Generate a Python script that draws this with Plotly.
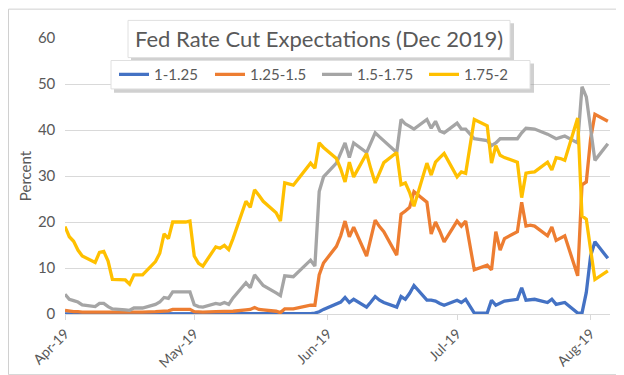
import plotly.graph_objects as go

dates = [
    "2019-04-01", "2019-04-02", "2019-04-03", "2019-04-04", "2019-04-05",
    "2019-04-08", "2019-04-09", "2019-04-10", "2019-04-11", "2019-04-12",
    "2019-04-15", "2019-04-16", "2019-04-17", "2019-04-18", "2019-04-19",
    "2019-04-22", "2019-04-23", "2019-04-24", "2019-04-25", "2019-04-26",
    "2019-04-29", "2019-04-30",
    "2019-05-01", "2019-05-02", "2019-05-03",
    "2019-05-06", "2019-05-07", "2019-05-08", "2019-05-09", "2019-05-10",
    "2019-05-13", "2019-05-14", "2019-05-15", "2019-05-16", "2019-05-17",
    "2019-05-20", "2019-05-21", "2019-05-22", "2019-05-23", "2019-05-24",
    "2019-05-28", "2019-05-29", "2019-05-30", "2019-05-31",
    "2019-06-03", "2019-06-04", "2019-06-05", "2019-06-06", "2019-06-07",
    "2019-06-10", "2019-06-11", "2019-06-12", "2019-06-13", "2019-06-14",
    "2019-06-17", "2019-06-18", "2019-06-19", "2019-06-20", "2019-06-21",
    "2019-06-24", "2019-06-25", "2019-06-26", "2019-06-27", "2019-06-28",
    "2019-07-01", "2019-07-02", "2019-07-03", "2019-07-05",
    "2019-07-08", "2019-07-09", "2019-07-10", "2019-07-11", "2019-07-12",
    "2019-07-15", "2019-07-16", "2019-07-17", "2019-07-18", "2019-07-19",
    "2019-07-22", "2019-07-23", "2019-07-24", "2019-07-25", "2019-07-26",
    "2019-07-29", "2019-07-30", "2019-07-31",
    "2019-08-01", "2019-08-02", "2019-08-05",
]

rate_1_125 = [
    0, 0, 0, 0, 0, 0, 0, 0, 0, 0, 0, 0, 0, 0, 0, 0, 0, 0, 0, 0, 0, 0,
    0, 0, 0, 0, 0, 0, 0, 0, 0, 0, 0, 0, 0, 0, 0, 0, 0, 0, 0.1, 0.2, 0.5, 1.0,
    2.1, 2.6, 3.6, 2.5, 3.2, 1.5, 2.6, 3.8, 3.0, 2.5, 1.5, 3.8, 3.2, 4.5, 6.2,
    3.0, 3.0, 2.8, 2.3, 1.9,
    3.0, 2.5, 3.2, 0.2, 0.2, 3.0, 1.9, 2.4, 2.8, 3.2, 5.7, 3.0, 3.1, 3.2,
    2.5, 3.2, 2.1, 2.3, 2.5, 0.2, 0.2, 4.7,
    12.6, 15.7, 12.1,
]

rate_125_15 = [
    0.8, 0.6, 0.5, 0.5, 0.4, 0.4, 0.4, 0.4, 0.3, 0.3, 0.3, 0.3, 0.4, 0.4, 0.4,
    0.5, 0.6, 0.7, 0.7, 1.0, 1.0, 1.0,
    0.5, 0.4, 0.4, 0.5, 0.5, 0.6, 0.5, 0.6, 0.9, 1.0, 1.4, 1.0, 0.9, 0.6, 0.3,
    1.1, 1.1, 1.1, 1.9, 1.9, 8.5, 11.1,
    14.7, 17.0, 20.2, 16.8, 18.9, 12.6, 16.5, 20.4, 19.0, 17.9, 12.8, 21.7,
    22.4, 23.2, 26.6, 24.3, 17.4, 20.0, 18.0, 15.7,
    20.2, 19.1, 20.2, 9.6, 10.6, 9.6, 17.9, 13.9, 16.4, 17.9, 24.3, 19.1,
    19.3, 19.1, 17.0, 18.9, 16.0, 16.5, 17.0, 8.3, 28.1, 28.7,
    38.1, 43.4, 41.9,
]

rate_15_175 = [
    4.3, 3.2, 2.9, 2.6, 2.0, 1.6, 2.3, 2.3, 1.6, 1.1, 0.9, 0.8, 1.3, 1.3, 1.3,
    2.1, 2.6, 3.6, 3.4, 4.8, 4.8, 4.8,
    2.0, 1.6, 1.5, 2.3, 2.1, 2.5, 2.1, 3.5, 6.8, 5.7, 8.5, 7.2, 6.2, 4.6, 4.0,
    8.3, 8.2, 8.1, 11.7, 10.4, 26.6, 29.8,
    32.8, 35.0, 37.2, 34.0, 37.2, 35.1, 37.2, 39.4, 38.5, 37.7, 35.1, 42.3,
    41.3, 40.8, 40.2, 42.3, 40.4, 41.9, 39.8, 39.4,
    41.5, 40.2, 40.2, 38.1, 37.7, 36.6, 37.2, 38.1, 38.1, 38.1, 39.4, 40.4,
    40.3, 40.2, 39.1, 38.6, 38.1, 38.4, 38.7, 37.2, 49.4, 47.2,
    40.2, 33.4, 37.0,
]

rate_175_2 = [
    19.0, 16.8, 15.8, 13.9, 12.6, 11.2, 13.4, 13.6, 11.5, 7.5, 7.4, 6.5, 8.5,
    8.5, 8.5, 11.4, 13.2, 17.4, 16.4, 20.0, 20.0, 20.2,
    12.6, 11.0, 10.4, 14.6, 14.3, 14.9, 14.0, 16.4, 24.5, 23.2, 27.0, 25.8,
    24.5, 22.0, 20.2, 28.5, 28.2, 28.0, 32.8, 31.7, 37.2, 36.2,
    33.8, 31.5, 28.7, 33.0, 29.8, 34.9, 31.5, 28.5, 30.7, 32.9, 35.1, 28.1,
    28.5, 26.4, 23.4, 32.8, 30.2, 33.0, 34.0, 34.9,
    29.8, 30.9, 30.6, 42.3, 40.9, 32.8, 36.6, 34.5, 34.0, 33.0, 25.3, 30.6,
    30.8, 30.9, 33.0, 31.3, 34.0, 33.8, 33.4, 42.6, 21.3, 20.6,
    14.0, 7.5, 9.4,
]

series_names = ["1-1.25", "1.25-1.5", "1.5-1.75", "1.75-2"]
series_values = [rate_1_125, rate_125_15, rate_15_175, rate_175_2]
series_colors = ["#4472C4", "#ED7D31", "#A5A5A5", "#FFC000"]
legend_ids = ["legend", "legend2", "legend3", "legend4"]

title_text = "Fed Rate Cut Expectations (Dec 2019)"
y_title = "Percent"

FONT = "Lato, 'Open Sans', sans-serif"
TXT = "#595959"

W, H = 624, 375
ML, MR, MT, MB = 57, 22, 30, 63
PW, PH = W - ML - MR, H - MT - MB


def px_x(p):
    return (p - ML) / PW


def px_y(p):
    return (H - MB - p) / PH


fig = go.Figure()
for name, vals, col, lg in zip(series_names, series_values, series_colors,
                               legend_ids):
    fig.add_trace(go.Scatter(
        x=dates, y=vals, name=name, mode="lines",
        line=dict(color=col, width=3.3), legend=lg,
    ))

shapes = [
    # outer chart border
    dict(type="rect", xref="paper", yref="paper",
         x0=px_x(0.5), x1=px_x(623), y0=px_y(374), y1=px_y(0.5),
         line=dict(color="#D0D0D0", width=1), fillcolor="rgba(0,0,0,0)",
         layer="below"),
    # title box shadow + box
    dict(type="rect", xref="paper", yref="paper",
         x0=px_x(123), x1=px_x(506), y0=px_y(54), y1=px_y(15),
         line=dict(width=0), fillcolor="rgba(150,150,150,0.45)", layer="above"),
    dict(type="rect", xref="paper", yref="paper",
         x0=px_x(120), x1=px_x(502), y0=px_y(50), y1=px_y(12),
         line=dict(color="#E0E0E0", width=1), fillcolor="white", layer="above"),
    # legend box shadow + box
    dict(type="rect", xref="paper", yref="paper",
         x0=px_x(106), x1=px_x(526), y0=px_y(86), y1=px_y(56),
         line=dict(width=0), fillcolor="rgba(150,150,150,0.45)", layer="above"),
    dict(type="rect", xref="paper", yref="paper",
         x0=px_x(103), x1=px_x(522), y0=px_y(82), y1=px_y(53),
         line=dict(color="#E0E0E0", width=1), fillcolor="white", layer="above"),
]

legend_left_px = [106, 202, 309, 416]
legend_layout = {}
for lg, lx in zip(legend_ids, legend_left_px):
    legend_layout[lg] = dict(
        orientation="h", x=px_x(lx), xanchor="left",
        y=px_y(67.5), yanchor="middle",
        bgcolor="rgba(0,0,0,0)", borderwidth=0,
        font=dict(family=FONT, size=15, color=TXT),
        itemwidth=30,
    )

fig.update_layout(
    width=W, height=H,
    margin=dict(l=ML, r=MR, t=MT, b=MB, pad=0),
    paper_bgcolor="white", plot_bgcolor="white",
    font=dict(family=FONT, color=TXT, size=14),
    shapes=shapes,
    showlegend=True,
    annotations=[
        dict(text=title_text, xref="paper", yref="paper",
             x=px_x(311), y=px_y(31), xanchor="center", yanchor="middle",
             showarrow=False,
             font=dict(family=FONT, size=22, color=TXT)),
    ],
    **legend_layout,
)

fig.update_xaxes(
    type="date",
    range=["2019-04-01", "2019-08-05 12:00"],
    tick0="2019-04-01", dtick="M1", tickformat="%b-%y",
    tickangle=-45, tickfont=dict(size=14, color=TXT),
    showgrid=False, showline=True, linecolor="#D9D9D9", linewidth=1,
    ticks="outside", ticklen=5, tickcolor="#D9D9D9",
    zeroline=False,
)
fig.update_yaxes(
    range=[0, 60], dtick=10, tick0=0,
    showgrid=True, gridcolor="#D9D9D9", gridwidth=1,
    zeroline=False, showline=False, ticks="",
    ticksuffix="\u2007",
    tickfont=dict(size=15, color=TXT),
    title=dict(text=y_title, font=dict(size=15, color=TXT), standoff=2),
)

fig.write_html("out.html")
